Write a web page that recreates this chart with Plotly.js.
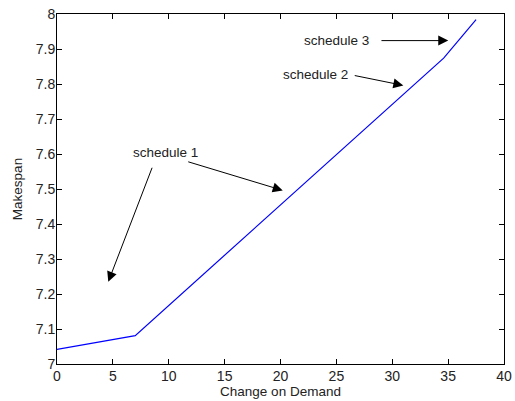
<!DOCTYPE html>
<html>
<head>
<meta charset="utf-8">
<script src="https://cdn.plot.ly/plotly-3.0.1.min.js"></script>
<style>html,body{margin:0;padding:0;background:#fff;}#chart{width:515px;height:401px;}</style>
</head>
<body>
<div id="chart"></div>
<script>
// Data
var demandChange = [0, 7, 34.6, 37.5];
var makespan = [7.042, 7.081, 7.874, 7.984];

var xTicks = [0, 5, 10, 15, 20, 25, 30, 35, 40];
var yTicks = [7, 7.1, 7.2, 7.3, 7.4, 7.5, 7.6, 7.7, 7.8, 7.9, 8];

var labelNames = ['schedule 1', 'schedule 2', 'schedule 3'];

var FONT = 'Liberation Sans, Arial, sans-serif';
var TXT = '#222';

function arrow(x, y, ax, ay) {
  return {x: x, y: y, ax: ax, ay: ay, xref: 'x', yref: 'y', axref: 'x', ayref: 'y',
    text: '', showarrow: true, arrowhead: 2, arrowsize: 2, arrowwidth: 1,
    arrowcolor: '#000', standoff: 0, startstandoff: 0};
}
function label(t, x, y) {
  return {x: x, y: y, xref: 'x', yref: 'y', text: t, showarrow: false,
    font: {family: FONT, size: 13.5, color: TXT}, xanchor: 'center', yanchor: 'middle'};
}

var annotations = [
  label(labelNames[0], 9.74, 7.604),
  arrow(4.59, 7.235, 8.56, 7.565),
  arrow(20.2, 7.496, 11.61, 7.579),
  label(labelNames[1], 23.11, 7.827),
  arrow(30.99, 7.796, 26.51, 7.825),
  label(labelNames[2], 24.97, 7.924),
  arrow(35.01, 7.924, 28.9, 7.924)
];

var trace = {x: demandChange, y: makespan, type: 'scatter', mode: 'lines',
  line: {color: '#0000ff', width: 1.2}, hoverinfo: 'none'};

var axisCommon = {showgrid: false, zeroline: false, showline: true, linecolor: '#000', linewidth: 1,
  mirror: 'ticks', ticks: 'inside', ticklen: 5, tickwidth: 1, tickcolor: '#000',
  tickfont: {family: FONT, size: 14, color: TXT}};

var layout = {
  width: 515, height: 401,
  margin: {l: 57, r: 11, t: 13.5, b: 37},
  paper_bgcolor: '#fff', plot_bgcolor: '#fff',
  showlegend: false,
  xaxis: Object.assign({}, axisCommon, {range: [0, 40], tickvals: xTicks, ticktext: xTicks.map(String),
    ticklabelstandoff: -1,
    title: {text: 'Change on Demand', font: {family: FONT, size: 13.5, color: TXT}, standoff: 3}}),
  yaxis: Object.assign({}, axisCommon, {range: [7, 8], tickvals: yTicks, ticktext: yTicks.map(String),
    ticklabelstandoff: -2,
    title: {text: 'Makespan', font: {family: FONT, size: 13.5, color: TXT}, standoff: 10}}),
  annotations: annotations
};

Plotly.newPlot('chart', [trace], layout, {staticPlot: true, displayModeBar: false});
</script>
</body>
</html>
